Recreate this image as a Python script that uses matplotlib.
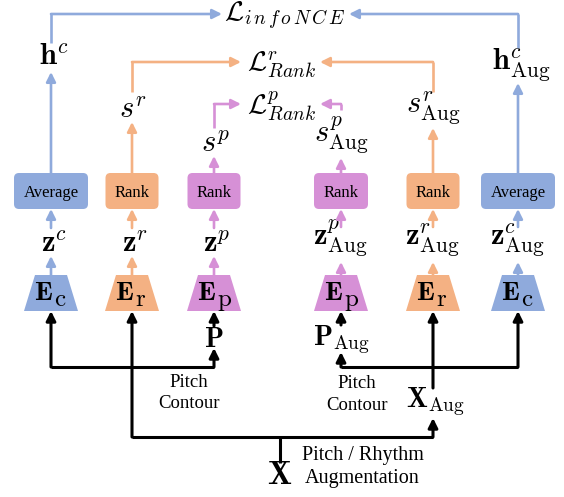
import matplotlib
matplotlib.use('Agg')
import matplotlib.pyplot as plt
from matplotlib.patches import FancyBboxPatch, Polygon

plt.rcParams['mathtext.fontset'] = 'cm'
plt.rcParams['font.family'] = ['Liberation Serif', 'DejaVu Serif']

BLUE = '#8faadc'
ORANGE = '#f4b183'
PURPLE = '#d690d6'
BLACK = '#000000'

# six branches, left to right
col_x = [51, 132, 214, 341, 433, 518]
col_color = [BLUE, ORANGE, PURPLE, PURPLE, ORANGE, BLUE]
box_text = ['Average', 'Rank', 'Rank', 'Rank', 'Rank', 'Average']
box_w = [74, 53, 53, 54, 53, 74]
z_text = [r'$\mathbf{z}^{c}$', r'$\mathbf{z}^{r}$', r'$\mathbf{z}^{p}$',
          r'$\mathbf{z}^{p}_{\mathrm{Aug}}$', r'$\mathbf{z}^{r}_{\mathrm{Aug}}$',
          r'$\mathbf{z}^{c}_{\mathrm{Aug}}$']
enc_sub = ['c', 'r', 'p', 'p', 'r', 'c']
out_text = [r'$\mathbf{h}^{c}$', r'$s^{r}$', r'$s^{p}$',
            r'$s^{p}_{\mathrm{Aug}}$', r'$s^{r}_{\mathrm{Aug}}$',
            r'$\mathbf{h}^{c}_{\mathrm{Aug}}$']
out_base = [65, 118, 152, 142, 113, 70]     # baseline of output label
out_dx = [3, 1, 1, 0, 0, 3]
out_tip = [72, 122, 156, 158, 128, 83]      # arrow tip below output label
out_top = [43, 92, 128, 110, 92, 48]        # line start above output label
loss_y = [14, 62, 104, 104, 62, 14]         # level of the loss line
loss_tip = [222, 241, 241, 320, 320, 349]
loss_text = [r'$\mathcal{L}_{i\,n\,f\,o\,N\,C\,E}$', r'$\mathcal{L}^{r}_{Rank}$',
             r'$\mathcal{L}^{p}_{Rank}$']
loss_pos = [(285, 21), (281, 70), (281, 113)]

BOX_TOP, BOX_BOT = 173, 209
ENC_TOP, ENC_BOT = 275, 311

fig = plt.figure(figsize=(5.64, 4.97), dpi=100)
ax = fig.add_axes([0, 0, 1, 1])
ax.set_xlim(0, 564)
ax.set_ylim(497, 0)
ax.axis('off')


def arrow(x0, y0, x1, y1, color, lw=1.9):
    ax.annotate('', xy=(x1, y1), xytext=(x0, y0),
                arrowprops=dict(arrowstyle='-|>', color=color, lw=lw,
                                mutation_scale=14, shrinkA=0, shrinkB=0))


def line(xs, ys, color, lw=1.9):
    ax.plot(xs, ys, color=color, lw=lw, solid_capstyle='butt',
            solid_joinstyle='miter')


def label(x, y, s, size, ha='center'):
    ax.text(x, y, s, ha=ha, va='baseline', fontsize=size)


for i, x in enumerate(col_x):
    c = col_color[i]
    aug = i >= 3
    # encoder trapezoid
    ax.add_patch(Polygon([(x - 27, ENC_BOT), (x + 27, ENC_BOT),
                          (x + 16, ENC_TOP), (x - 16, ENC_TOP)],
                         closed=True, fc=c, ec='none'))
    label(x + 2, 300, r'$\mathbf{E}$', 19.5, ha='right')
    label(x + 3, 306, r'$\mathrm{%s}$' % enc_sub[i], 18, ha='left')
    # z label
    label(x + (0 if aug else 3), 245 if aug else 252, z_text[i], 22)
    arrow(x, ENC_TOP, x, 262 if aug else 256, c)
    arrow(x, 227 if aug else 228, x, BOX_BOT, c)
    # Rank / Average box
    w = box_w[i]
    ax.add_patch(FancyBboxPatch((x - w / 2 + 5, BOX_TOP + 5), w - 10,
                                BOX_BOT - BOX_TOP - 10,
                                boxstyle='round,pad=5', fc=c, ec='none'))
    label(x, 197, box_text[i], 12)
    # output label and path to the loss
    label(x + out_dx[i], out_base[i], out_text[i], 22)
    arrow(x, BOX_TOP, x, out_tip[i], c)
    line([x, x], [out_top[i], loss_y[i]], c)
    arrow(x, loss_y[i], loss_tip[i], loss_y[i], c)

for t, (lx, ly) in zip(loss_text, loss_pos):
    label(lx, ly, t, 20)

# black input paths
K = 2.2
line([51, 214], [367, 367], BLACK, K)
arrow(51, 367, 51, ENC_BOT, BLACK, K)
arrow(214, 367, 214, 348, BLACK, K)
arrow(214, 326, 214, ENC_BOT, BLACK, K)
line([341, 518], [367, 367], BLACK, K)
arrow(518, 367, 518, ENC_BOT, BLACK, K)
arrow(341, 367, 341, 352, BLACK, K)
arrow(341, 325, 341, ENC_BOT, BLACK, K)
line([280, 280], [463, 437], BLACK, K)
line([132, 433], [437, 437], BLACK, K)
arrow(132, 437, 132, ENC_BOT, BLACK, K)
arrow(433, 437, 433, 418, BLACK, K)
arrow(433, 388, 433, ENC_BOT, BLACK, K)

label(214, 347, r'$\mathbf{P}$', 20)
label(341, 345, r'$\mathbf{P}_{\mathrm{Aug}}$', 20)
label(435, 407, r'$\mathbf{X}_{\mathrm{Aug}}$', 20)
label(280, 484, r'$\mathbf{X}$', 23)

label(189, 387, 'Pitch', 13.5)
label(189, 408, 'Contour', 13.5)
label(357, 388, 'Pitch', 13.5)
label(357, 410, 'Contour', 13.5)
label(302, 460, 'Pitch / Rhythm', 14.5, ha='left')
label(305, 483, 'Augmentation', 14.5, ha='left')

fig.savefig('out.png', dpi=100)
